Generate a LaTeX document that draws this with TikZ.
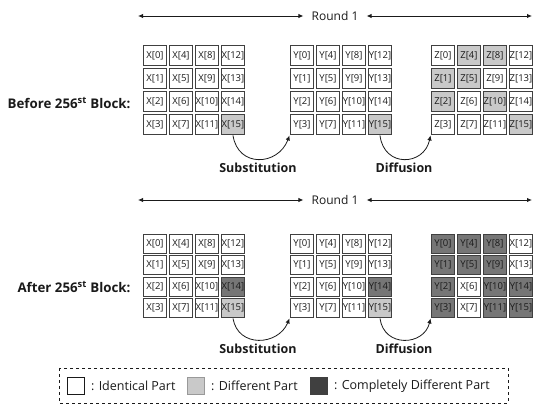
\documentclass[tikz,border=0pt]{standalone}
\usepackage{fontspec}
\setmainfont{Open Sans}
\usetikzlibrary{arrows.meta,calc,positioning}
\definecolor{ink}{HTML}{1A1A1A}
\definecolor{cellEdge}{HTML}{404040}
\definecolor{diffFill}{HTML}{C9C9C9}
\definecolor{fullFill}{HTML}{767676}
\definecolor{legendDark}{HTML}{404040}
\tikzset{
    >={Latex[length=5pt,width=4.5pt]},
    cell/.style={draw=cellEdge, line width=1.1pt, minimum width=23.8pt,
                 inner sep=0pt, text=ink, font=\fontsize{9.5}{10}\selectfont},
    plain/.style={fill=white},
    diff/.style={fill=diffFill},
    full/.style={fill=fullFill},
    round label/.style={font=\fontsize{12}{14}\selectfont, inner xsep=8pt,
                        text=ink},
    span arrow/.style={ink, line width=0.9pt, <->},
    step arrow/.style={ink, line width=0.8pt, ->},
    step label/.style={font=\bfseries\fontsize{12.5}{14}\selectfont, text=ink},
    block label/.style={font=\bfseries\fontsize{13.3}{15}\selectfont, text=ink,
                        anchor=east},
    legend box/.style={draw=ink, dashed, line width=0.8pt},
    swatch/.style={minimum size=17pt, inner sep=0pt, line width=0.8pt},
    legend text/.style={font=\fontsize{12.5}{14}\selectfont, text=ink,
                        inner sep=0pt},
}
% #1 name, #2 left edge, #3 top edge, #4 row pitch, #5 tone/letter per index
\newcommand{\stategrid}[5]{%
  \foreach \tone/\ltr [count=\i from 0] in {#5} {
    \pgfmathtruncatemacro\col{div(\i,4)}
    \pgfmathtruncatemacro\row{mod(\i,4)}
    \node[cell, \tone, minimum height={#4*1pt-2.2pt}] (#1\i)
        at ({#2+13+26*\col},{#3+#4/2+#4*\row}) {\ltr[\i]};
  }}

\begin{document}
\begin{tikzpicture}[x=1pt, y=-1pt]
\useasboundingbox (0,0) rectangle (550,409);

% Round 1, before the 256th block.
\node[round label] (roundTop) at (335,16) {Round 1};
\coordinate (roundTopL) at (138,16);
\coordinate (roundTopR) at (532,16);
\draw[span arrow] (roundTop.west) -- (roundTopL);
\draw[span arrow] (roundTop.east) -- (roundTopR);
\node[block label] (before) at (134,103) {Before 256\textsuperscript{st} Block:};

\stategrid{tx}{142}{44}{23}{plain/X,plain/X,plain/X,plain/X,
    plain/X,plain/X,plain/X,plain/X,plain/X,plain/X,plain/X,plain/X,
    plain/X,plain/X,plain/X,diff/X}
\stategrid{ty}{289}{44}{23}{plain/Y,plain/Y,plain/Y,plain/Y,
    plain/Y,plain/Y,plain/Y,plain/Y,plain/Y,plain/Y,plain/Y,plain/Y,
    plain/Y,plain/Y,plain/Y,diff/Y}
\stategrid{tz}{430}{44}{23}{plain/Z,diff/Z,diff/Z,plain/Z,
    diff/Z,diff/Z,plain/Z,plain/Z,diff/Z,plain/Z,diff/Z,plain/Z,
    plain/Z,plain/Z,plain/Z,diff/Z}

\draw[step arrow] (tx15.south) .. controls (238,168) and (278,166) .. (ty3.south west);
\node[step label] (subTop) at (258,168) {Substitution};
\draw[step arrow] (ty15.south) .. controls (384,168) and (424,166) .. (tz3.south west);
\node[step label] (diffTop) at (404,168) {Diffusion};

% Round 1, after the 256th block.
\node[round label] (roundBot) at (335,200) {Round 1};
\coordinate (roundBotL) at (138,200);
\coordinate (roundBotR) at (532,200);
\draw[span arrow] (roundBot.west) -- (roundBotL);
\draw[span arrow] (roundBot.east) -- (roundBotR);
\node[block label] (after) at (134,287) {After 256\textsuperscript{st} Block:};

\stategrid{bx}{142}{233}{21.5}{plain/X,plain/X,plain/X,plain/X,
    plain/X,plain/X,plain/X,plain/X,plain/X,plain/X,plain/X,plain/X,
    plain/X,plain/X,full/X,diff/X}
\stategrid{by}{289}{233}{21.5}{plain/Y,plain/Y,plain/Y,plain/Y,
    plain/Y,plain/Y,plain/Y,plain/Y,plain/Y,plain/Y,plain/Y,plain/Y,
    plain/Y,plain/Y,full/Y,diff/Y}
\stategrid{bz}{430}{233}{21.5}{full/Y,full/Y,full/Y,full/Y,
    full/Y,full/Y,plain/X,plain/X,full/Y,full/Y,full/Y,full/Y,
    plain/X,plain/X,full/Y,full/Y}

\draw[step arrow] (bx15.south) .. controls (238,348) and (278,346) .. (by3.south west);
\node[step label] (subBot) at (258,349) {Substitution};
\draw[step arrow] (by15.south) .. controls (384,348) and (424,346) .. (bz3.south west);
\node[step label] (diffBot) at (404,349) {Diffusion};

% Legend.
\draw[legend box] (59,368) rectangle (508,403);
\node[swatch, draw=ink, fill=white] (legSame) at (76,386) {};
\node[legend text, right=6pt of legSame] (legSameTxt) {: Identical Part};
\node[swatch, draw=black!40, fill=diffFill] (legDiff) at (196,386) {};
\node[legend text, right=6pt of legDiff] (legDiffTxt) {: Different Part};
\node[swatch, draw=legendDark, fill=legendDark] (legFull) at (319,386) {};
\node[legend text, right=6pt of legFull] (legFullTxt) {: Completely Different Part};

\end{tikzpicture}
\end{document}
